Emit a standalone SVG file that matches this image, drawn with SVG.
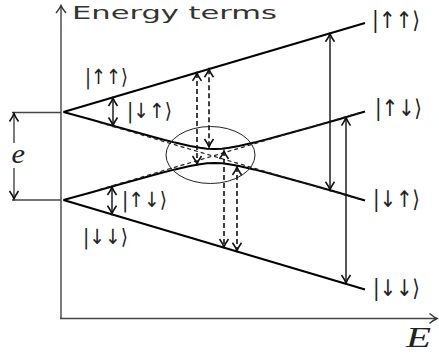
<svg xmlns="http://www.w3.org/2000/svg" width="439" height="360" viewBox="0 0 439 360">
<style>
.axis{stroke:#444;stroke-width:1.4;fill:none}
.lvl{stroke:#000;stroke-width:2;fill:none;stroke-linejoin:round}
.dia{stroke:#222;stroke-width:1.2;fill:none;stroke-dasharray:4 3}
.arr{stroke:#111;stroke-width:1.4;fill:none;marker-start:url(#ah);marker-end:url(#ah)}
.darr{stroke:#111;stroke-width:1.6;fill:none;stroke-dasharray:5 3;marker-start:url(#ah);marker-end:url(#ah)}
.ket{font-family:"DejaVu Sans",sans-serif;fill:#222}
.ital{font-family:"Liberation Serif",serif;font-style:italic;fill:#222}
</style>
<defs>
<marker id="ah" markerUnits="userSpaceOnUse" markerWidth="12" markerHeight="12" viewBox="-10 -6 12 12" refX="0" refY="0" orient="auto-start-reverse">
<path d="M-8,-4.5 Q-3,-1 0,0 Q-3,1 -8,4.5" fill="none" stroke="#111" stroke-width="1.6"/>
</marker>
<marker id="ax" markerUnits="userSpaceOnUse" markerWidth="12" markerHeight="12" viewBox="-10 -6 12 12" refX="0" refY="0" orient="auto">
<path d="M-7.5,-5 Q-2.5,-1 0,0 Q-2.5,1 -7.5,5" fill="none" stroke="#333" stroke-width="1.4"/>
</marker>
</defs>
<rect width="439" height="360" fill="#fff"/>
<g id="axes">
<line class="axis" x1="61" y1="319" x2="61" y2="5.5" marker-end="url(#ax)"/>
<line class="axis" x1="60" y1="318.5" x2="437" y2="318.5" marker-end="url(#ax)"/>
<line class="axis" x1="12" y1="112.5" x2="61" y2="112.5" stroke-width="1.2"/>
<line class="axis" x1="12" y1="200" x2="61" y2="200" stroke-width="1.2"/>
<text x="72" y="19" font-family="DejaVu Sans, sans-serif" font-size="18" textLength="205" lengthAdjust="spacingAndGlyphs" fill="#333">Energy terms</text>
<text class="ital" x="406" y="347" font-size="29" textLength="25" lengthAdjust="spacingAndGlyphs">E</text>
</g>
<g id="level-uu">
<line class="lvl" x1="63.5" y1="112" x2="365" y2="23"/>
<text class="ket" x="372" y="28" font-size="23" textLength="48" lengthAdjust="spacingAndGlyphs">|↑↑⟩</text>
<text class="ket" x="85" y="83.5" font-size="21" textLength="43" lengthAdjust="spacingAndGlyphs">|↑↑⟩</text>
</g>
<g id="level-ud">
<polyline class="lvl" points="63.5,112 90,119.2 120,127.7 140,133.3 160,138.7 175,142.6 190,146.0 200,147.8 207,148.7 214.5,149 222,148.7 229,147.8 239,146.0 254,142.6 269,138.7 289,133.3 309,127.7 339,119.2 365,111.5"/>
<text class="ket" x="375" y="116" font-size="23" textLength="47" lengthAdjust="spacingAndGlyphs">|↑↓⟩</text>
<text class="ket" x="127" y="117.5" font-size="21" textLength="45" lengthAdjust="spacingAndGlyphs">|↓↑⟩</text>
</g>
<g id="level-du">
<polyline class="lvl" points="63.5,200 90,192.8 120,184.3 140,178.7 160,173.3 175,169.4 190,166.0 200,164.2 207,163.3 214.5,163 222,163.3 229,164.2 239,166.0 254,169.4 269,173.3 289,178.7 309,184.3 339,192.8 365,200.5"/>
<text class="ket" x="373" y="207" font-size="23" textLength="47" lengthAdjust="spacingAndGlyphs">|↓↑⟩</text>
<text class="ket" x="122" y="206.5" font-size="21" textLength="45" lengthAdjust="spacingAndGlyphs">|↑↓⟩</text>
</g>
<g id="level-dd">
<line class="lvl" x1="63.5" y1="200" x2="365" y2="289.5"/>
<text class="ket" x="373" y="296" font-size="23" textLength="47" lengthAdjust="spacingAndGlyphs">|↓↓⟩</text>
<text class="ket" x="83" y="243.5" font-size="21" textLength="45" lengthAdjust="spacingAndGlyphs">|↓↓⟩</text>
</g>
<g id="crossing">
<line class="dia" x1="100" y1="122.6" x2="360" y2="199.5"/>
<line class="dia" x1="100" y1="189.4" x2="360" y2="112.5"/>
<ellipse cx="210.5" cy="155" rx="44.5" ry="28.5" fill="none" stroke="#222" stroke-width="1"/>
</g>
<g id="connectors">
<line class="axis" x1="14" y1="143" x2="14" y2="113.5" stroke="#111" marker-end="url(#ah)"/>
<line class="axis" x1="14" y1="168" x2="14" y2="199" stroke="#111" marker-end="url(#ah)"/>
<text class="ital" x="11.5" y="163" font-size="28" textLength="13.5" lengthAdjust="spacingAndGlyphs">e</text>
<line class="arr" x1="113" y1="98" x2="113" y2="125.5"/>
<line class="arr" x1="112" y1="187" x2="112" y2="213.8"/>
<line class="arr" x1="330" y1="33.8" x2="330" y2="189.8"/>
<line class="arr" x1="346" y1="117.6" x2="346" y2="283"/>
<line class="darr" x1="197" y1="72.9" x2="197" y2="164"/>
<line class="darr" x1="209" y1="69.3" x2="209" y2="147"/>
<line class="darr" x1="224" y1="151" x2="224" y2="247"/>
<line class="darr" x1="237" y1="167" x2="237" y2="250.8"/>
</g>
</svg>
